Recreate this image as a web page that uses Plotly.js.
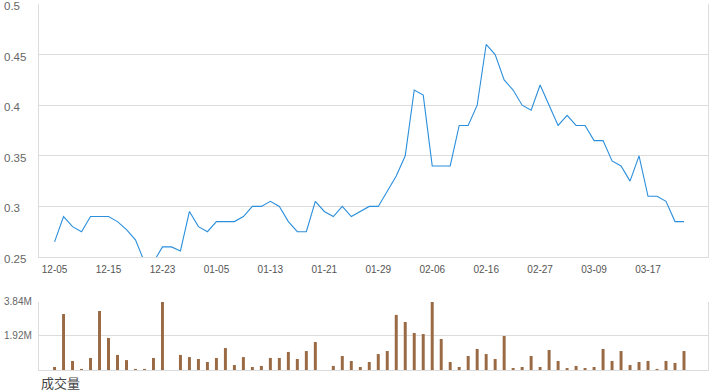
<!DOCTYPE html>
<html>
<head>
<meta charset="utf-8">
<script src="https://cdn.plot.ly/plotly-3.0.1.min.js"></script>
<style>html,body{margin:0;padding:0;background:#fff;}#chart{width:720px;height:392px;}</style>
</head>
<body>
<div id="chart"></div>
<script>
const dates = [
 "12-05","12-06","12-08","12-11","12-12","12-13",
 "12-15","12-16","12-18","12-19","12-20","12-22",
 "12-23","12-26","12-27","12-28","12-29","01-03",
 "01-05","01-06","01-09","01-10","01-11","01-12",
 "01-13","01-16","01-17","01-18","01-19","01-20",
 "01-21","01-23","01-24","01-25","01-26","01-27",
 "01-29","01-30","01-31","02-01","02-02","02-03",
 "02-06","02-07","02-08","02-09","02-10","02-14",
 "02-16","02-17","02-20","02-21","02-22","02-24",
 "02-27","02-28","03-01","03-02","03-03","03-07",
 "03-09","03-10","03-13","03-14","03-15","03-16",
 "03-17","03-20","03-21","03-22","03-23"
];
const price = [
 0.265,0.29,0.28,0.275,0.29,0.29,
 0.29,0.285,0.277,0.267,0.245,0.245,
 0.26,0.26,0.256,0.295,0.28,0.275,
 0.285,0.285,0.285,0.29,0.30,0.30,
 0.305,0.30,0.285,0.275,0.275,0.305,
 0.295,0.29,0.30,0.29,0.295,0.30,
 0.30,0.315,0.33,0.35,0.415,0.41,
 0.34,0.34,0.34,0.38,0.38,0.40,
 0.46,0.45,0.425,0.415,0.40,0.395,
 0.42,0.40,0.38,0.39,0.38,0.38,
 0.365,0.365,0.345,0.34,0.325,0.35,
 0.31,0.31,0.305,0.285,0.285
];
const volume = [
 0.17,3.16,0.51,0.06,0.68,3.33,
 1.81,0.85,0.56,0.06,0.06,0.68,
 3.84,0,0.85,0.73,0.62,0.45,
 0.68,1.24,0.28,0.73,0.17,0.23,
 0.68,0.68,1.02,0.62,1.07,1.58,
 0,0.23,0.79,0.51,0.17,0.45,
 0.90,1.07,3.11,2.71,2.09,2.03,
 3.84,1.75,0.45,0.17,0.79,1.19,
 0.90,0.62,1.92,0.11,0.17,0.79,
 0.17,1.13,0.51,0.11,0.23,0.11,
 0.17,1.19,0.51,1.07,0.28,0.45,
 0.51,0.06,0.51,0.40,1.07
].map(v => v * 1e6);
const xTickLabels = ["12-05","12-15","12-23","01-05","01-13","01-21","01-29","02-06","02-16","02-27","03-09","03-17"];
const priceTicks = [0.5,0.45,0.4,0.35,0.3,0.25];
const priceTickText = ["0.5","0.45","0.4","0.35","0.3","0.25"];
const volTicks = [1.92e6,3.84e6];
const volTickText = ["1.92M","3.84M"];
const volTitle = "成交量";

const FONT = "Liberation Sans, Arial, Noto Sans CJK SC, sans-serif";
const GRID = "#dcdcdc";
const xRange = [-1.73, 72.67];

const traces = [
 {type:"scatter", mode:"lines", x:dates, y:price, xaxis:"x", yaxis:"y",
  line:{color:"#2b8fdc", width:1.1}, hoverinfo:"skip", cliponaxis:true},
 {type:"bar", x:dates, y:volume, xaxis:"x2", yaxis:"y2",
  marker:{color:"#996a44"}, width:0.33, hoverinfo:"skip"}
];

const annotations = [];
priceTicks.forEach((v,i)=>annotations.push({xref:"paper", yref:"y", x:-0.0548, y:v, xanchor:"left", yanchor:"middle",
  yshift:-2, text:priceTickText[i], showarrow:false, font:{family:FONT, size:11.5, color:"#666"}}));
volTicks.forEach((v,i)=>annotations.push({xref:"paper", yref:"y2", x:-0.0548, y:v, xanchor:"left", yanchor:"middle",
  text:volTickText[i], showarrow:false, font:{family:FONT, size:10, color:"#666"}}));
annotations.push({xref:"paper", yref:"paper", x:0, y:-0.038, xanchor:"left", yanchor:"middle",
  text:volTitle, showarrow:false, font:{family:FONT, size:13, color:"#444"}});

const layout = {
 width:720, height:392,
 margin:{l:39, r:12, t:4, b:22},
 paper_bgcolor:"#fff", plot_bgcolor:"#fff",
 showlegend:false,
 font:{family:FONT},
 xaxis:{type:"category", domain:[0,1], anchor:"y", range:xRange,
  tickmode:"array", tickvals:xTickLabels, ticktext:xTickLabels,
  ticks:"outside", ticklen:3, tickcolor:"rgba(0,0,0,0)",
  tickfont:{family:FONT, size:10, color:"#555"},
  showgrid:false, showline:true, linecolor:GRID, linewidth:1, zeroline:false, fixedrange:true},
 yaxis:{domain:[0.3087,1], anchor:"x", range:[0.25,0.5],
  tickmode:"array", tickvals:priceTicks, showticklabels:false,
  showgrid:true, gridcolor:GRID, gridwidth:1,
  showline:true, mirror:true, linecolor:GRID, linewidth:1, zeroline:false, fixedrange:true},
 xaxis2:{type:"category", domain:[0,1], anchor:"y2", range:xRange,
  showticklabels:false, ticks:"", showgrid:false,
  showline:true, linecolor:GRID, linewidth:1, zeroline:false, fixedrange:true},
 yaxis2:{domain:[0,0.1858], anchor:"x2", range:[0,3.84e6],
  tickmode:"array", tickvals:volTicks, showticklabels:false,
  showgrid:true, gridcolor:GRID, gridwidth:1,
  showline:true, mirror:true, linecolor:GRID, linewidth:1, zeroline:false, fixedrange:true},
 annotations:annotations
};

Plotly.newPlot("chart", traces, layout, {staticPlot:true, displayModeBar:false});
</script>
</body>
</html>
